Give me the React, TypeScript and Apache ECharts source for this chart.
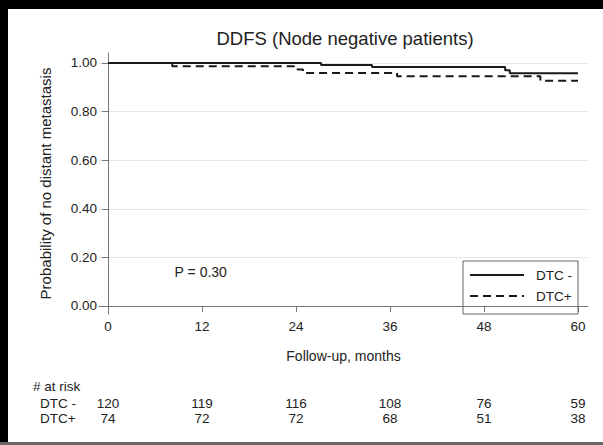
import React, { useEffect, useRef } from "react";
import * as echarts from "echarts";

const monthsDTCneg = [0, 27.2, 33.7, 50.7, 51.3, 60];
const survDTCneg = [1, 0.9917, 0.9833, 0.9704, 0.9574, 0.9574];
const monthsDTCpos = [0, 8.2, 24.2, 24.9, 36.9, 55.2, 60];
const survDTCpos = [1, 0.9865, 0.9728, 0.9591, 0.945, 0.9265, 0.9265];

const xTicks = [0, 12, 24, 36, 48, 60];
const yTicks = [0, 0.2, 0.4, 0.6, 0.8, 1.0];

const riskTimes = [0, 12, 24, 36, 48, 60];
const riskDTCneg = [120, 119, 116, 108, 76, 59];
const riskDTCpos = [74, 72, 72, 68, 51, 38];

const seriesNames = ["DTC -", "DTC+"];
const titleText = "DDFS (Node negative patients)";
const pText = "P = 0.30";

const FONT = "'Liberation Sans', Arial, sans-serif";
const TXT = "#222";

export default function App() {
  const ref = useRef<HTMLDivElement>(null);
  useEffect(() => {
    if (!ref.current) return;
    document.body.style.margin = "0";
    document.body.style.overflow = "hidden";
    const chart = echarts.init(ref.current, null, { renderer: "svg" });
    const option: any = {
      animation: false,
      backgroundColor: "transparent",
      textStyle: { fontFamily: FONT },
      grid: { left: 99, right: 15, top: 53, bottom: 131 },
      xAxis: {
        type: "value",
        min: -1.15,
        max: 61.28,
        name: "Follow-up, months",
        nameLocation: "middle",
        nameGap: 35,
        nameTextStyle: { fontSize: 14, color: TXT, fontFamily: FONT },
        axisLine: { show: true, lineStyle: { color: "#777", width: 1 } },
        axisTick: { show: true, length: 6, customValues: xTicks, lineStyle: { color: "#777" } },
        axisLabel: { customValues: xTicks, fontSize: 13.5, color: TXT, margin: 5, fontFamily: FONT },
        splitLine: { show: false },
      },
      yAxis: {
        type: "value",
        min: -0.033,
        max: 1.041,
        name: "Probability of no distant metastasis",
        nameLocation: "middle",
        nameGap: 46,
        nameTextStyle: { fontSize: 15, color: TXT, fontFamily: FONT },
        axisLine: { show: true, lineStyle: { color: "#777", width: 1 } },
        axisTick: { show: true, length: 6, customValues: yTicks, lineStyle: { color: "#777" } },
        axisLabel: {
          customValues: yTicks,
          fontSize: 13.5,
          color: TXT,
          margin: 2,
          fontFamily: FONT,
          formatter: (v: number) => v.toFixed(2),
        },
        splitLine: { show: true, lineStyle: { color: "#e6e6e6", width: 1 } },
      },
      legend: {
        orient: "vertical",
        left: 463,
        top: 261,
        padding: [7, 6, 11, 6],
        itemGap: 7,
        itemWidth: 54,
        itemHeight: 14,
        borderColor: "#666",
        borderWidth: 1,
        borderRadius: 0,
        data: seriesNames,
        itemStyle: { opacity: 0 },
        textStyle: { fontSize: 13.5, color: TXT, fontFamily: FONT, padding: [0, 0, 0, 7] },
      },
      series: [
        {
          name: seriesNames[0],
          type: "line",
          step: "end",
          symbol: "none",
          showSymbol: false,
          data: monthsDTCneg.map((m, i) => [m, survDTCneg[i]]),
          lineStyle: { color: "#1a1a1a", width: 2, type: "solid" },
          itemStyle: { color: "#1a1a1a" },
        },
        {
          name: seriesNames[1],
          type: "line",
          step: "end",
          symbol: "none",
          showSymbol: false,
          data: monthsDTCpos.map((m, i) => [m, survDTCpos[i]]),
          lineStyle: { color: "#1a1a1a", width: 2, type: [8, 5] },
          itemStyle: { color: "#1a1a1a" },
        },
      ],
    };
    chart.setOption(option);

    const xs = riskTimes.map((t) => chart.convertToPixel({ xAxisIndex: 0 }, t) as number);
    const pPos = chart.convertToPixel({ xAxisIndex: 0, yAxisIndex: 0 }, [8.5, 0.14]) as number[];
    const textEl = (x: number, y: number, text: string, align = "center", size = 13.5) => ({
      type: "text",
      x,
      y,
      silent: true,
      style: { text, align, verticalAlign: "middle", fontSize: size, fill: TXT, fontFamily: FONT },
    });
    const graphics: any[] = [
      { type: "rect", silent: true, z: 100, shape: { x: 0, y: 0, width: 8, height: 445 }, style: { fill: "#000" } },
      { type: "rect", silent: true, z: 100, shape: { x: 0, y: 0, width: 603, height: 9 }, style: { fill: "#000" } },
      { type: "rect", silent: true, z: 100, shape: { x: 0, y: 442, width: 603, height: 3 }, style: { fill: "#666" } },
      textEl(345, 38, titleText, "center", 18.5),
      textEl(pPos[0], pPos[1], pText, "left", 14),
      textEl(33, 386, "# at risk", "left"),
      textEl(40, 403, seriesNames[0], "left"),
      textEl(40, 418, seriesNames[1], "left"),
    ];
    xs.forEach((x, i) => {
      graphics.push(textEl(x, 403, String(riskDTCneg[i])));
      graphics.push(textEl(x, 418, String(riskDTCpos[i])));
    });
    chart.setOption({ graphic: graphics });
    return () => chart.dispose();
  }, []);
  return <div ref={ref} style={{ width: 603, height: 445, background: "#fff" }} />;
}
